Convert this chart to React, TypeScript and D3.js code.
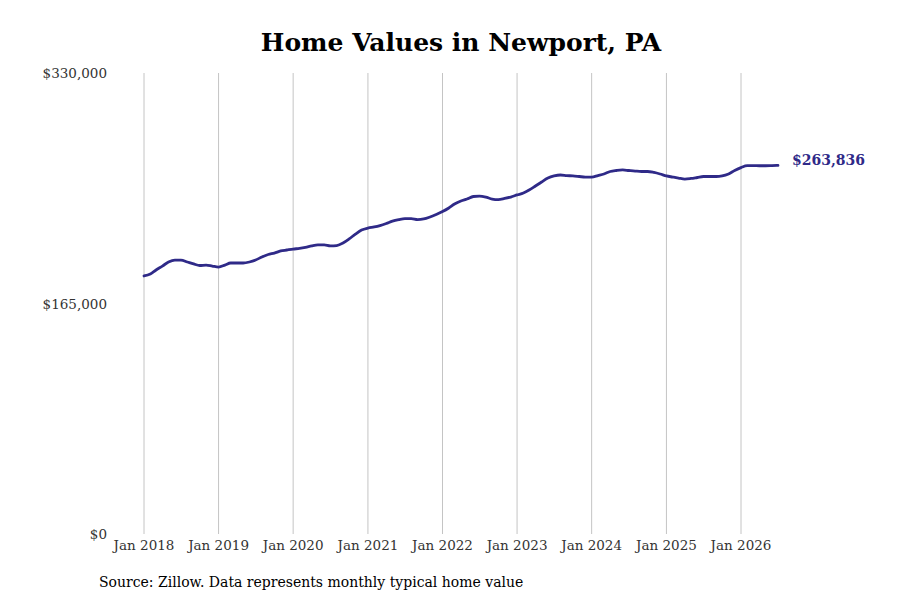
import React from "react";
import * as d3 from "d3";

const years = [2018, 2019, 2020, 2021, 2022, 2023, 2024, 2025, 2026];
const yTicks = [0, 165000, 330000];

const values2018 = [184700, 186100, 189000, 191800, 194700, 196100, 196100, 194700, 193300, 192200, 192500, 191800];
const values2019 = [191100, 192500, 194000, 194000, 194000, 194700, 196100, 198300, 200100, 201100, 202600, 203300];
const values2020 = [204000, 204400, 205100, 206200, 206900, 206900, 206200, 206500, 208300, 211200, 214700, 217600];
const values2021 = [219000, 219800, 220800, 222300, 224000, 225100, 225800, 225800, 225100, 225500, 226900, 228700];
const values2022 = [230800, 233400, 236200, 238400, 239800, 241600, 241900, 241200, 239800, 239400, 240200, 241200];
const values2023 = [242700, 244100, 246200, 249100, 252000, 254800, 256300, 257000, 256600, 256300, 255900, 255500];
const values2024 = [255500, 256600, 257700, 259500, 260200, 260600, 260200, 259800, 259500, 259500, 258800, 257700];
const values2025 = [256300, 255500, 254800, 254100, 254500, 255200, 255900, 255900, 255900, 256300, 257700, 260200];
const values2026 = [262300, 263700, 263700, 263600, 263600, 263700, 263836];

const allValues = [
  ...values2018, ...values2019, ...values2020, ...values2021, ...values2022,
  ...values2023, ...values2024, ...values2025, ...values2026,
];

const data = allValues.map((v, i) => ({ date: new Date(2018, i, 1), value: v }));

const W = 900;
const H = 600;
const left = 144;
const right = 741;
const top = 73;
const bottom = 534;
const lineColor = "#2f2a88";
const font = "'DejaVu Serif', serif";

export default function App() {
  const x = d3.scaleTime().domain([new Date(2018, 0, 1), new Date(2026, 0, 1)]).range([left, right]);
  const y = d3.scaleLinear().domain([0, 330000]).range([bottom, top]);
  const line = d3
    .line<{ date: Date; value: number }>()
    .x((d) => x(d.date))
    .y((d) => y(d.value))
    .curve(d3.curveMonotoneX);
  const last = data[data.length - 1];
  const fmt = d3.format("$,.0f");

  return (
    <svg width={W} height={H} style={{ position: "absolute", left: 0, top: 0, background: "#fff" }} fontFamily={font}>
      <rect width={W} height={H} fill="#fff" />
      <text x={461} y={51} textAnchor="middle" fontSize={25} fontWeight="bold" fill="#000">
        Home Values in Newport, PA
      </text>
      {years.map((yr) => {
        const xx = x(new Date(yr, 0, 1));
        return (
          <g key={yr}>
            <line x1={xx} x2={xx} y1={top} y2={bottom} stroke="#c4c4c4" strokeWidth={1} />
            <text x={xx} y={550} textAnchor="middle" fontSize={13.5} fill="#333">
              Jan {yr}
            </text>
          </g>
        );
      })}
      {yTicks.map((t) => (
        <text key={t} x={107} y={y(t) + 5} textAnchor="end" fontSize={13.5} fill="#333">
          {fmt(t)}
        </text>
      ))}
      <path d={line(data) || ""} fill="none" stroke={lineColor} strokeWidth={2.8} strokeLinejoin="round" strokeLinecap="round" />
      <text x={x(last.date) + 14} y={y(last.value)} fontSize={14} fontWeight="bold" fill={lineColor}>
        {fmt(last.value)}
      </text>
      <text x={99} y={587} fontSize={14} fill="#000">
        Source: Zillow. Data represents monthly typical home value
      </text>
    </svg>
  );
}
